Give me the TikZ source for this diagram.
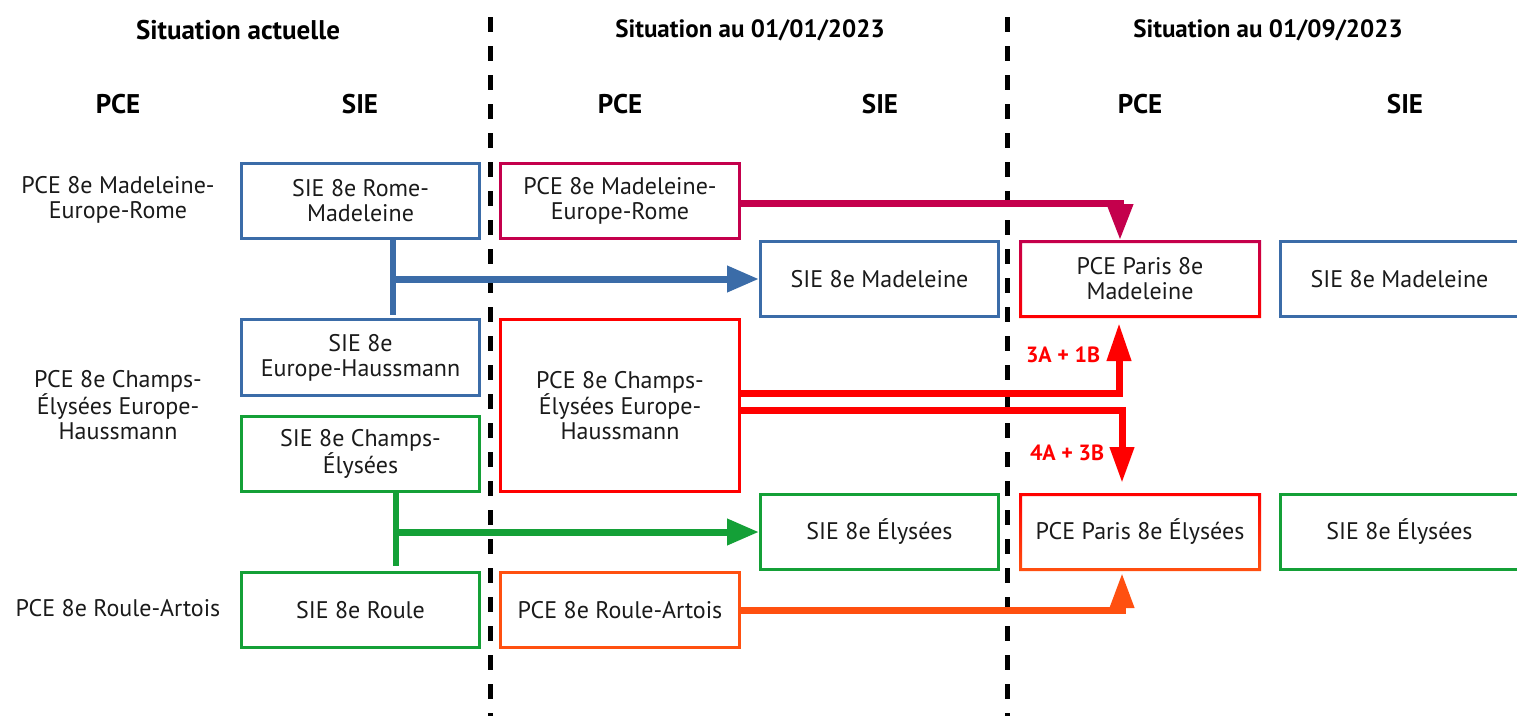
\documentclass[tikz,border=0pt]{standalone}
\usepackage{fontspec}
\setmainfont{PT Sans}
\usetikzlibrary{arrows.meta}
\definecolor{blueC}{RGB}{59,108,168}
\definecolor{greenC}{RGB}{20,160,55}
\definecolor{crimC}{RGB}{196,0,76}
\definecolor{redC}{RGB}{255,0,0}
\definecolor{orangeC}{RGB}{255,80,16}
\definecolor{txt}{RGB}{26,26,26}
\begin{document}
\begin{tikzpicture}[x=1pt,y=-1pt,
  box/.style={rectangle, line width=3pt, outer sep=1.5pt, minimum width=238pt, minimum height=75pt,
    align=center, text=txt, font=\fontsize{24}{25}\selectfont, inner sep=2pt},
  plain/.style={align=center, text=txt, font=\fontsize{24}{25}\selectfont},
  head/.style={font=\fontsize{27}{30}\selectfont\bfseries, text=black},
  datehead/.style={font=\fontsize{25}{30}\selectfont\bfseries, text=black},
  sep/.style={line width=5pt, dash pattern=on 15pt off 14pt, black},
  flow/.style={line width=7pt},
  lab/.style={font=\fontsize{22}{24}\selectfont\bfseries, text=redC}]
\useasboundingbox (0,0) rectangle (1517,716);
% headings
\node[head] (t1) at (238,30) {Situation actuelle};
\node[datehead] (t2) at (750,30) {Situation au 01/01/2023};
\node[datehead] (t3) at (1268,30) {Situation au 01/09/2023};
\node[head] (h1) at (118,104) {PCE};
\node[head] (h2) at (360,104) {SIE};
\node[head] (h3) at (620,104) {PCE};
\node[head] (h4) at (880,104) {SIE};
\node[head] (h5) at (1140,104) {PCE};
\node[head] (h6) at (1405,104) {SIE};
% separators
\coordinate (d1a) at (490,17); \coordinate (d1b) at (490,716);
\coordinate (d2a) at (1007,17); \coordinate (d2b) at (1007,716);
\draw[sep] (d1a) -- (d1b);
\draw[sep] (d2a) -- (d2b);
% column 1 PCE (text only)
\node[plain] (tA) at (118,200) {PCE 8e Madeleine-\\Europe-Rome};
\node[plain] (tB) at (118,405) {PCE 8e Champs-\\Élysées Europe-\\Haussmann};
\node[plain] (tC) at (118,608) {PCE 8e Roule-Artois};
% column 1 SIE
\node[box, draw=blueC] (sA) at (360.5,201) {SIE 8e Rome-\\Madeleine};
\node[box, draw=blueC, minimum height=76pt] (sB) at (360.5,357.5) {SIE 8e\\Europe-Haussmann};
\node[box, draw=greenC] (sC) at (360.5,454) {SIE 8e Champs-\\Élysées};
\node[box, draw=greenC] (sD) at (360.5,610) {SIE 8e Roule};
% column 2 PCE
\node[box, draw=crimC, minimum width=239pt] (pA) at (620,201) {PCE 8e Madeleine-\\Europe-Rome};
\node[box, draw=redC, minimum width=239pt, minimum height=172pt] (pB) at (620,405.5) {PCE 8e Champs-\\Élysées Europe-\\Haussmann};
\node[box, draw=orangeC, minimum width=239pt] (pC) at (620,610) {PCE 8e Roule-Artois};
% column 2 SIE
\node[box, draw=blueC] (sE) at (879.5,279) {SIE 8e Madeleine};
\node[box, draw=greenC] (sF) at (879.5,532) {SIE 8e Élysées};
% column 3 PCE
\node[box, minimum width=239pt] (pD) at (1140,279) {PCE Paris 8e\\Madeleine};
\node[box, minimum width=239pt] (pE) at (1140,532) {PCE Paris 8e Élysées};
\shade[top color=crimC, bottom color=redC, even odd rule]
  (pD.north west) rectangle (pD.south east)
  ([shift={(3pt,-3pt)}]pD.north west) rectangle ([shift={(-3pt,3pt)}]pD.south east);
\shade[top color=redC, bottom color=orangeC, even odd rule]
  (pE.north west) rectangle (pE.south east)
  ([shift={(3pt,-3pt)}]pE.north west) rectangle ([shift={(-3pt,3pt)}]pE.south east);
% column 3 SIE
\node[box, draw=blueC] (sG) at (1399.5,279) {SIE 8e Madeleine};
\node[box, draw=greenC] (sH) at (1399.5,532) {SIE 8e Élysées};
% blue flow
\coordinate (bT) at (393,240); \coordinate (bB) at (393,315); \coordinate (bM) at (390,279);
\draw[blueC, line width=6pt] (bT) -- (bB);
\draw[blueC, flow, -{Triangle[length=32pt,width=25pt]}] (bM) -- (sE.west);
% green flow
\coordinate (gT) at (396,493); \coordinate (gB) at (396,566); \coordinate (gM) at (393,532);
\draw[greenC, line width=6pt] (gT) -- (gB);
\draw[greenC, flow, -{Triangle[length=32pt,width=25pt]}] (gM) -- (sF.west);
% crimson flow
\draw[crimC, flow, -{Triangle[length=36pt,width=25pt]}] ([yshift=-2pt]pA.east) -| ([xshift=-20pt]pD.north);
% red flows
\draw[redC, flow, -{Triangle[length=38pt,width=23pt]}] ([yshift=12.5pt]pB.east) -| ([xshift=-21pt,yshift=-5pt]pD.south);
\draw[redC, flow, -{Triangle[length=36pt,width=23pt]}] ([yshift=-4.5pt]pB.east) -| ([xshift=-18pt,yshift=10pt]pE.north);
% orange flow
\draw[orangeC, flow, -{Triangle[length=35pt,width=23pt]}] (pC.east) -| ([xshift=-18pt,yshift=-2pt]pE.south);
% labels
\node[lab] (l1) at (1063,355) {3A + 1B};
\node[lab] (l2) at (1067,453) {4A + 3B};
\end{tikzpicture}
\end{document}
